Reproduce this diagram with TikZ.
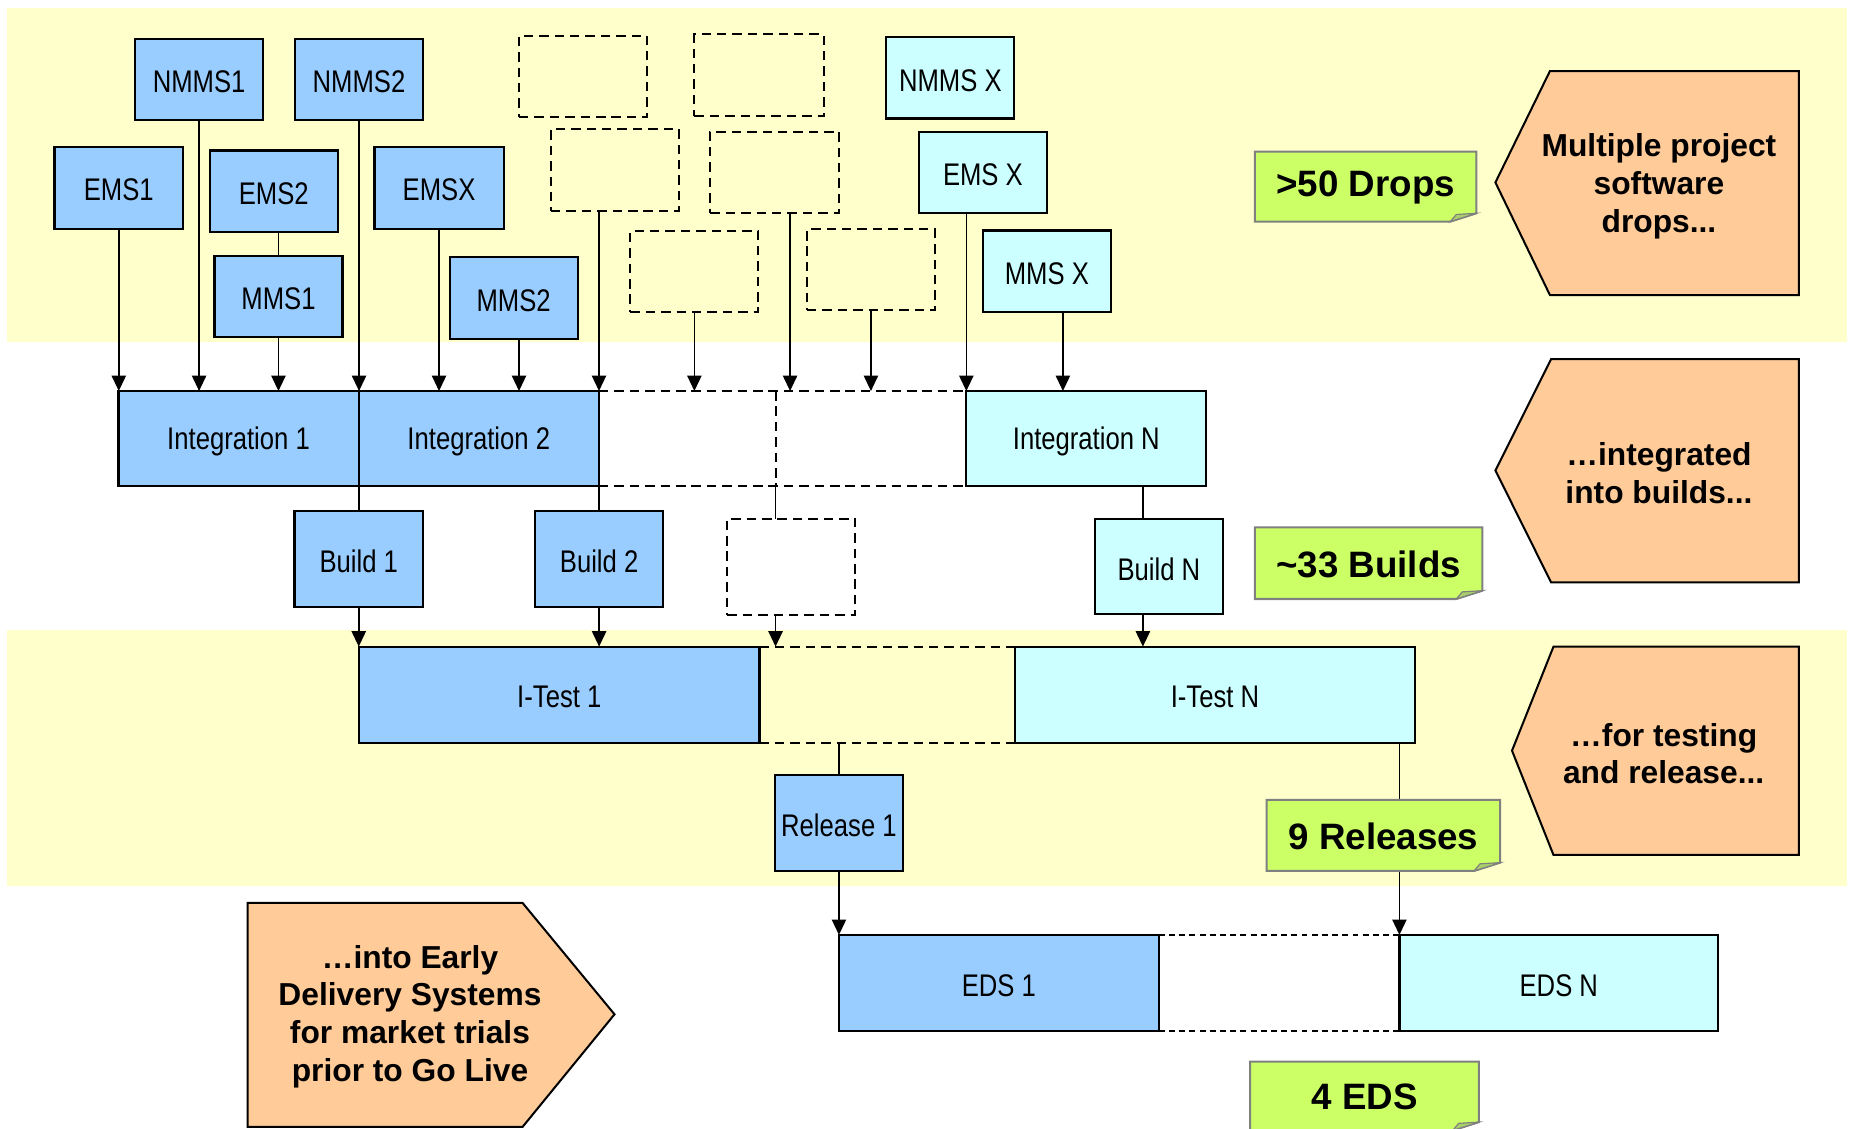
\documentclass[tikz,border=0pt]{standalone}
\usepackage{fontspec}
\setmainfont{Liberation Sans}
\newfontfamily\narrowsans[FakeStretch=0.82]{Liberation Sans}
\usetikzlibrary{arrows.meta,fit}

\definecolor{bandyellow}{HTML}{FFFFCC}
\definecolor{stageblue}{HTML}{99CCFF}
\definecolor{stagecyan}{HTML}{CCFFFF}
\definecolor{calloutorange}{HTML}{FFCC99}
\definecolor{tallygreen}{HTML}{CCFF66}
\definecolor{tallyedge}{HTML}{808080}
\definecolor{tallyfold}{HTML}{A9CF6A}

\tikzset{
  stage/.style={draw=black, line width=0.9pt, inner sep=0pt, outer sep=0pt},
  stage text/.style={inner sep=0pt, yshift=-1pt,
    font=\narrowsans\fontsize{13.2}{15}\selectfont},
  blue stage/.style={stage, fill=stageblue},
  cyan stage/.style={stage, fill=stagecyan},
  ghost/.style={draw=black, line width=0.85pt, dash pattern=on 4pt off 2.5pt,
    inner sep=0pt, outer sep=0pt},
  gapbox/.style={inner sep=0pt, outer sep=0pt},
  flow/.style={line width=0.7pt, -{Triangle[width=6pt,length=6.5pt]}},
  link/.style={line width=0.7pt},
  gapline/.style={line width=0.85pt, dash pattern=on 4pt off 2.5pt},
  fineline/.style={line width=0.85pt, dash pattern=on 2.5pt off 1.8pt},
  callout/.style={draw=black, line width=0.85pt, fill=calloutorange},
  callout text/.style={align=center, inner sep=0pt,
    font=\bfseries\fontsize{13.4}{16}\selectfont},
  tally/.style={inner sep=0pt, outer sep=0pt},
  tally text/.style={inner sep=0pt, yshift=-0.5pt,
    font=\bfseries\fontsize{15.5}{18}\selectfont},
  tally edge/.style={draw=tallyedge, line width=0.85pt, fill=tallygreen},
  tally fold/.style={draw=tallyedge, line width=0.5pt, fill=tallyfold},
}

% green sticky-note tally: #1 top-left corner, #2 bottom-right corner
\newcommand\tallynote[2]{%
  \draw[tally edge] (#1) -- (#1 -| #2) -- ([yshift=3.5pt]#2)
    -- ([xshift=-11pt]#2) -- (#1 |- #2) -- cycle;
  \draw[tally fold] ([yshift=3.5pt]#2) -- ([xshift=-8.5pt,yshift=3pt]#2)
    -- ([xshift=-11pt]#2) -- cycle;
}

\begin{document}
\begin{tikzpicture}[x=0.5pt, y=-0.5pt]
\useasboundingbox (0,0) rectangle (1568,952);

% phase bands
\fill[bandyellow] (6,7) rectangle (1559,289);
\fill[bandyellow] (6,532) rectangle (1559,748);

% software drops
\node[blue stage, fit={(114,33) (222,101)}, label={[stage text]center:NMMS1}] (nmms1) {};
\node[blue stage, fit={(249,33) (357,101)}, label={[stage text]center:NMMS2}] (nmms2) {};
\node[blue stage, fit={(46,124) (154.5,193)}, label={[stage text]center:EMS1}] (ems1) {};
\node[blue stage, fit={(177,127) (285,196)}, label={[stage text]center:EMS2}] (ems2) {};
\node[blue stage, fit={(316,124) (425,193)}, label={[stage text]center:EMSX}] (emsx) {};
\node[blue stage, fit={(181,216) (289,284.5)}, label={[stage text]center:MMS1}] (mms1) {};
\node[blue stage, fit={(379.5,217) (487.5,286)}, label={[stage text]center:MMS2}] (mms2) {};
\node[ghost, fit={(438,30) (546,99)}] (d1) {};
\node[ghost, fit={(586,29) (695,98)}] (d2) {};
\node[ghost, fit={(465,109) (573,178)}] (d3) {};
\node[ghost, fit={(599.5,111) (708,180)}] (d4) {};
\node[ghost, fit={(532,195) (640,263.5)}] (d5) {};
\node[ghost, fit={(681,193.5) (789,262)}] (d6) {};
\node[cyan stage, fit={(748,31.5) (856,100)}, label={[stage text]center:NMMS X}] (nmmsn) {};
\node[cyan stage, fit={(775.5,111.5) (883.5,180)}, label={[stage text]center:EMS X}] (emsn) {};
\node[cyan stage, fit={(829.5,194.5) (937.5,263.5)}, label={[stage text]center:MMS X}] (mmsn) {};

% integrations
\node[blue stage, fit={(100,330) (302.6,410.5)}, label={[stage text]center:Integration 1}] (int1) {};
\node[blue stage, fit={(302.6,330) (505.5,410.5)}, label={[stage text]center:Integration 2}] (int2) {};
\node[gapbox, fit={(505.5,330) (654.5,410.5)}] (intgapa) {};
\node[gapbox, fit={(654.5,330) (815.5,410.5)}] (intgapb) {};
\node[cyan stage, fit={(815.5,330) (1018,410.5)}, label={[stage text]center:Integration N}] (intn) {};

% builds
\node[blue stage, fit={(248.5,431) (357,512)}, label={[stage text]center:Build 1}] (build1) {};
\node[blue stage, fit={(451.5,431) (559.7,512)}, label={[stage text]center:Build 2}] (build2) {};
\node[ghost, fit={(613.8,437.7) (721.8,519)}] (buildd) {};
\node[cyan stage, fit={(924,437.7) (1032,518.5)}, label={[stage text]center:Build N}] (buildn) {};

% integration tests and releases
\node[blue stage, fit={(303,545.7) (641,626.7)}, label={[stage text]center:I-Test 1}] (itest1) {};
\node[gapbox, fit={(641,545.7) (856.7,626.7)}] (itestgap) {};
\node[cyan stage, fit={(856.7,545.7) (1194,626.7)}, label={[stage text]center:I-Test N}] (itestn) {};
\node[blue stage, fit={(654,654) (762,735)}, label={[stage text]center:Release 1}] (release1) {};

% early delivery systems
\node[blue stage, fit={(708,789) (978,870)}, label={[stage text]center:EDS 1}] (eds1) {};
\node[gapbox, fit={(978,789) (1181,870)}] (edsgap) {};
\node[cyan stage, fit={(1181,789) (1450,870)}, label={[stage text]center:EDS N}] (edsn) {};

% drops into integrations
\draw[flow] (ems1.south) -- (ems1.south |- int1.north);
\draw[flow] (nmms1.south) -- (nmms1.south |- int1.north);
\draw[link] (mms1.north |- ems2.south) -- (mms1.north);
\draw[flow] (mms1.south) -- (mms1.south |- int1.north);
\draw[flow] (nmms2.south) -- (nmms2.south |- int1.north);
\draw[flow] (emsx.south) -- (emsx.south |- int2.north);
\draw[flow] ([xshift=2.25pt]mms2.south) -- ([xshift=2.25pt]mms2.south |- int2.north);
\draw[flow] (d3.south -| int2.east) -- (int2.north east);
\draw[flow] (d5.south) -- (d5.south |- intgapa.north);
\draw[flow] ([xshift=6.5pt]d4.south) -- ([xshift=6.5pt]d4.south |- intgapb.north);
\draw[flow] (d6.south) -- (d6.south |- intgapb.north);
\draw[flow] (emsn.south -| intn.west) -- (intn.north west);
\draw[flow] ([xshift=6.75pt]mmsn.south) -- ([xshift=6.75pt]mmsn.south |- intn.north);

% placeholder integrations
\draw[gapline] (int2.north east) -- (intn.north west);
\draw[gapline] (int2.south east) -- (intn.south west);
\draw[gapline] (intgapa.north east) -- (intgapa.south east);

% integrations into builds
\draw[link] (build1.north |- int1.south) -- (build1.north);
\draw[link] (int2.south east) -- (int2.south east |- build2.north);
\draw[link] (intgapa.south east) -- (intgapa.south east |- buildd.north);
\draw[link] ([xshift=-6.75pt]buildn.north |- intn.south) -- ([xshift=-6.75pt]buildn.north);

% builds into integration tests
\draw[flow] (build1.south) -- (build1.south |- itest1.north);
\draw[flow] (build2.south) -- (build2.south |- itest1.north);
\draw[flow] (buildd.south -| intgapa.east) -- (intgapa.east |- itestgap.north);
\draw[flow] ([xshift=-6.75pt]buildn.south) -- ([xshift=-6.75pt]buildn.south |- itestn.north);
\draw[gapline] (itest1.north east) -- (itestn.north west);
\draw[gapline] (itest1.south east) -- (itestn.south west);

% releases into early delivery systems
\draw[link] (release1.north |- itest1.south) -- (release1.north);
\draw[flow] (release1.south) -- (release1.south |- eds1.north);
\draw[flow] (edsn.north west |- itestn.south) -- (edsn.north west);
\draw[fineline] (eds1.north east) -- (edsn.north west);
\draw[fineline] (eds1.south east) -- (edsn.south west);

% tallies
\coordinate (dropsA) at (1059,128);  \coordinate (dropsB) at (1246,187);
\tallynote{dropsA}{dropsB}
\node[tally, fit=(dropsA)(dropsB), label={[tally text]center:>50 Drops}] (drops) {};
\coordinate (buildsA) at (1059,445); \coordinate (buildsB) at (1251,505.5);
\tallynote{buildsA}{buildsB}
\node[tally, fit=(buildsA)(buildsB), label={[tally text]center:\textasciitilde33 Builds}] (builds) {};
\coordinate (relA) at (1069,675);    \coordinate (relB) at (1266,735);
\tallynote{relA}{relB}
\node[tally, fit=(relA)(relB), label={[tally text]center:9 Releases}] (releases) {};
\coordinate (edsA) at (1055,896);    \coordinate (edsB) at (1248,954);
\tallynote{edsA}{edsB}
\node[tally, fit=(edsA)(edsB), label={[tally text]center:4 EDS}] (edscount) {};

% phase callouts
\draw[callout] (1262,154) -- (1308,60) -- (1518,60) -- (1518,249) -- (1308,249) -- cycle;
\node[callout text] (c1) at (1400,157) {Multiple project\\software\\drops...};
\draw[callout] (1262,397) -- (1309,303) -- (1518,303) -- (1518,491.5) -- (1309,491.5) -- cycle;
\node[callout text] (c2) at (1400,399) {…integrated\\into builds...};
\draw[callout] (1276,633.5) -- (1311,545.7) -- (1518,545.7) -- (1518,721.5) -- (1311,721.5) -- cycle;
\node[callout text] (c3) at (1404,636) {…for testing\\and release...};
\draw[callout] (209,762) -- (441,762) -- (518.6,856) -- (441,951) -- (209,951) -- cycle;
\node[callout text] (c4) at (346,858) {…into Early\\Delivery Systems\\for market trials\\prior to Go Live};
\end{tikzpicture}
\end{document}
